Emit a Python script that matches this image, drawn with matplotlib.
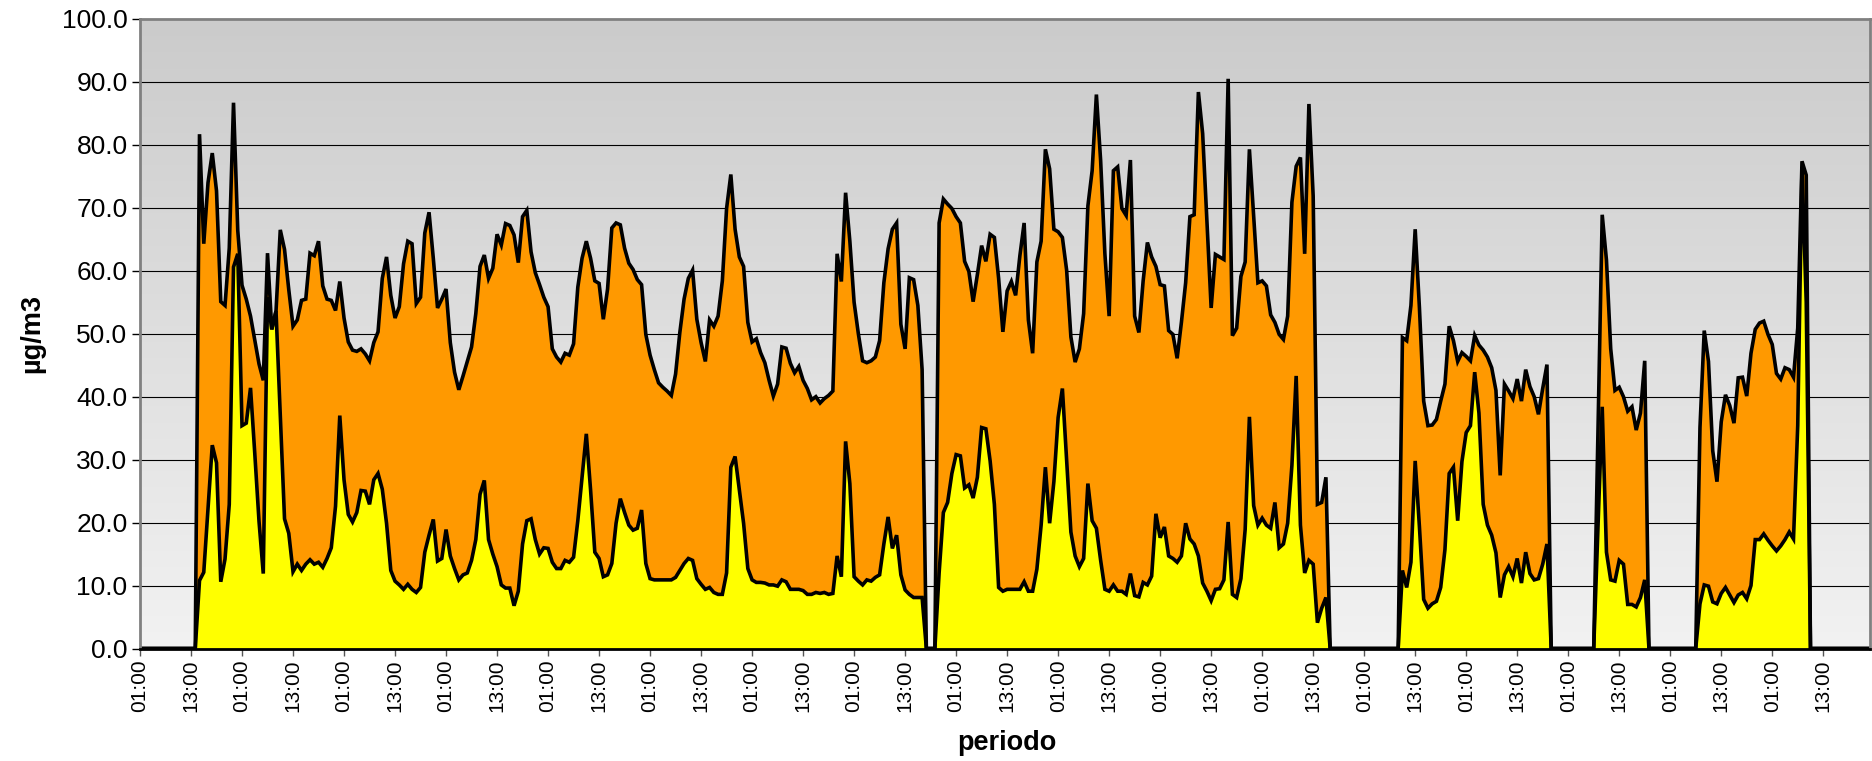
import numpy as np
import matplotlib
matplotlib.use("Agg")
import matplotlib.pyplot as plt
from matplotlib.colors import LinearSegmentedColormap

# ---------------- data (hourly, first value = 01:00 of day 1) ----------------
pm10 = [
    0, 0, 0, 0, 0, 0, 0, 0, 0, 0, 0, 0, 0, 0,
    81.7, 64.3, 74.0, 78.7, 72.7, 55.1, 54.5, 63.6, 86.7, 66.4,
    57.7, 55.5, 52.8, 49.0, 45.2, 42.6, 62.8, 50.7, 53.6, 66.5,
    63.4, 57.0, 51.2, 52.2, 55.3, 55.5, 62.8, 62.4, 64.7, 57.6,
    55.5, 55.3, 53.7, 58.3, 52.5, 48.7, 47.4, 47.2, 47.6, 46.8,
    45.7, 48.6, 50.3, 58.8, 62.2, 56.1, 52.5, 54.3, 61.1, 64.7,
    64.3, 54.8, 55.8, 66.0, 69.3, 62.0, 54.1, 55.5, 57.1, 48.6,
    43.9, 41.1, 43.3, 45.6, 47.9, 53.2, 60.7, 62.5, 58.8, 60.4,
    65.8, 64.1, 67.5, 67.2, 65.7, 61.3, 68.6, 69.6, 63.0, 59.7,
    57.8, 55.8, 54.3, 47.6, 46.3, 45.5, 46.9, 46.6, 48.4, 57.4,
    62.0, 64.7, 62.0, 58.4, 58.0, 52.3, 57.1, 66.8, 67.6, 67.3,
    63.6, 61.2, 60.2, 58.6, 57.8, 49.9, 46.6, 44.3, 42.2, 41.5,
    40.9, 40.2, 43.6, 50.2, 55.5, 58.8, 60.1, 52.3, 48.6, 45.6,
    52.2, 51.2, 52.8, 58.4, 69.9, 75.3, 66.6, 62.2, 60.7, 51.8,
    48.7, 49.2, 47.0, 45.4, 42.6, 40.1, 42.0, 47.9, 47.7, 45.3,
    43.8, 44.8, 42.6, 41.3, 39.5, 40.0, 39.0, 39.7, 40.2, 40.9,
    62.7, 58.3, 72.4, 64.7, 55.0, 50.0, 45.7, 45.4, 45.7, 46.3,
    48.9, 58.1, 63.5, 66.6, 67.6, 51.5, 47.6, 58.9, 58.6, 54.5,
    44.3, 0, 0, 0, 67.6, 71.4, 70.6, 69.9, 68.6, 67.6,
    61.5, 59.9, 55.1, 59.4, 64.0, 61.5, 65.8, 65.3, 58.8, 50.3,
    56.8, 58.3, 56.1, 62.4, 67.6, 52.2, 46.9, 61.4, 64.7, 79.3,
    76.2, 66.6, 66.2, 65.3, 60.1, 49.5, 45.5, 47.6, 53.2, 70.3,
    75.9, 88.0, 77.5, 62.7, 52.8, 75.9, 76.5, 69.9, 68.8, 77.6,
    52.8, 50.2, 58.4, 64.5, 62.2, 60.7, 57.8, 57.6, 50.5, 49.9,
    46.1, 51.8, 58.1, 68.6, 68.9, 88.4, 81.8, 68.0, 54.1, 62.6,
    62.2, 61.8, 90.5, 49.7, 50.9, 59.1, 61.4, 79.3, 68.6, 58.1,
    58.4, 57.6, 53.0, 51.8, 49.9, 49.1, 52.8, 70.9, 76.6, 78.0,
    62.7, 86.5, 71.9, 22.9, 23.2, 27.2, 0, 0, 0, 0,
    0, 0, 0, 0, 0, 0, 0, 0, 0, 0,
    0, 0, 0, 49.4, 48.9, 54.5, 66.6, 54.1, 39.3, 35.4,
    35.5, 36.4, 39.3, 42.0, 51.2, 48.9, 45.6, 47.0, 46.4, 45.7,
    49.7, 48.2, 47.4, 46.3, 44.6, 41.0, 27.5, 42.0, 40.9, 39.7,
    42.8, 39.3, 44.3, 41.6, 40.0, 37.2, 41.3, 45.1, 0, 0,
    0, 0, 0, 0, 0, 0, 0, 0, 0, 34.8,
    68.9, 61.7, 47.6, 41.0, 41.5, 40.0, 37.7, 38.4, 34.7, 37.4,
    45.7, 0, 0, 0, 0, 0, 0, 0, 0, 0,
    0, 0, 0, 35.1, 50.5, 45.6, 31.4, 26.5, 36.0, 40.3,
    38.6, 35.8, 43.0, 43.1, 40.1, 46.9, 50.7, 51.7, 52.0, 49.9,
    48.3, 43.7, 42.8, 44.6, 44.3, 43.1, 50.9, 77.4, 75.2, 0,
    0, 0, 0, 0, 0, 0, 0, 0, 0, 0,
    0, 0, 0, 0,
]

pm25 = [
    0, 0, 0, 0, 0, 0, 0, 0, 0, 0, 0, 0, 0, 0,
    10.8, 12.1, 22.3, 32.3, 29.5, 10.6, 14.2, 22.9, 60.6, 62.7,
    35.4, 35.8, 41.4, 31.0, 20.2, 11.9, 55.8, 50.7, 53.6, 37.0,
    20.6, 18.3, 12.2, 13.4, 12.4, 13.4, 14.1, 13.4, 13.7, 12.9,
    14.3, 16.0, 22.6, 37.0, 26.8, 21.3, 20.1, 21.6, 25.1, 25.0,
    22.9, 26.8, 27.8, 25.3, 19.9, 12.4, 10.7, 10.1, 9.4, 10.2,
    9.4, 8.9, 9.7, 15.3, 18.0, 20.5, 13.9, 14.3, 18.9, 14.7,
    12.7, 10.9, 11.7, 12.0, 14.0, 17.3, 24.5, 26.7, 17.3, 15.0,
    13.0, 10.1, 9.6, 9.6, 6.8, 9.1, 16.6, 20.3, 20.6, 17.3,
    15.0, 16.0, 15.9, 13.7, 12.7, 12.7, 14.0, 13.7, 14.5, 20.3,
    27.2, 34.1, 25.2, 15.3, 14.3, 11.4, 11.7, 13.5, 19.9, 23.8,
    21.6, 19.6, 18.8, 19.1, 22.0, 13.5, 11.1, 10.9, 10.9, 10.9,
    10.9, 10.9, 11.3, 12.4, 13.5, 14.3, 14.0, 11.1, 10.2, 9.4,
    9.7, 8.9, 8.6, 8.6, 12.0, 28.8, 30.5, 25.2, 19.9, 12.7,
    10.9, 10.5, 10.5, 10.4, 10.1, 10.1, 9.9, 10.9, 10.6, 9.4,
    9.4, 9.4, 9.2, 8.6, 8.6, 8.9, 8.75, 8.9, 8.6, 8.75,
    14.7, 11.4, 32.9, 26.2, 11.4, 10.7, 10.1, 10.9, 10.7, 11.3,
    11.7, 16.6, 20.9, 15.9, 18.0, 11.7, 9.3, 8.6, 8.1, 8.1,
    8.1, 0, 0, 0, 12.0, 21.6, 23.2, 27.8, 30.8, 30.6,
    25.5, 26.0, 23.9, 27.2, 35.1, 34.9, 29.8, 22.9, 9.7, 9.1,
    9.4, 9.4, 9.4, 9.4, 10.6, 9.1, 9.1, 12.6, 19.6, 28.8,
    19.9, 26.5, 36.7, 41.3, 29.8, 18.5, 14.7, 13.0, 14.3, 26.2,
    20.3, 19.1, 14.0, 9.4, 9.1, 10.1, 9.1, 9.1, 8.6, 11.9,
    8.4, 8.2, 10.5, 10.1, 11.5, 21.4, 17.6, 19.3, 14.7, 14.3,
    13.7, 14.7, 19.9, 17.4, 16.6, 14.7, 10.4, 9.1, 7.6, 9.4,
    9.5, 10.9, 20.1, 8.6, 8.1, 11.1, 18.9, 36.8, 22.7, 19.6,
    20.7, 19.6, 19.1, 23.2, 16.0, 16.6, 19.9, 29.1, 43.3, 19.6,
    12.0, 14.0, 13.4, 4.1, 6.4, 8.1, 0, 0, 0, 0,
    0, 0, 0, 0, 0, 0, 0, 0, 0, 0,
    0, 0, 0, 12.4, 9.7, 13.7, 29.8, 19.3, 7.8, 6.4,
    7.1, 7.5, 9.7, 15.7, 27.8, 28.8, 20.3, 29.7, 34.3, 35.4,
    43.9, 37.4, 22.9, 19.6, 18.0, 15.2, 8.1, 11.7, 13.0, 11.4,
    14.3, 10.4, 15.3, 11.9, 10.9, 11.1, 13.4, 16.6, 0, 0,
    0, 0, 0, 0, 0, 0, 0, 0, 0, 19.4,
    38.4, 15.3, 10.9, 10.7, 14.0, 13.4, 7.0, 7.0, 6.6, 8.1,
    10.9, 0, 0, 0, 0, 0, 0, 0, 0, 0,
    0, 0, 0, 7.1, 10.1, 9.9, 7.4, 7.1, 8.75, 9.7,
    8.5, 7.3, 8.5, 8.9, 7.9, 10.0, 17.3, 17.3, 18.2, 17.2,
    16.3, 15.5, 16.3, 17.3, 18.5, 17.4, 35.4, 76.5, 55.0, 0,
    0, 0, 0, 0, 0, 0, 0, 0, 0, 0,
    0, 0, 0, 0,
]

tick_labels = ["01:00", "13:00"] * 17
y_ticks = [0, 10, 20, 30, 40, 50, 60, 70, 80, 90, 100]

assert len(pm10) == 408 and len(pm25) == 408, (len(pm10), len(pm25))

hours = np.arange(len(pm10))

# ---------------- figure ----------------
plt.rcParams["font.family"] = ["Liberation Sans", "DejaVu Sans"]
fig = plt.figure(figsize=(18.72, 7.61), dpi=100)
ax = fig.add_axes([140 / 1872, 1 - 648.5 / 761, 1730 / 1872, 629.5 / 761])

# gradient background of the plot area
cmap = LinearSegmentedColormap.from_list("bg", ["#f2f2f2", "#cbcbcb"])
grad = np.linspace(0, 1, 256).reshape(-1, 1)
ax.imshow(grad, extent=[0, 1, 0, 1], transform=ax.transAxes, aspect="auto",
          cmap=cmap, origin="lower", zorder=0, interpolation="bicubic")

# grid
for v in y_ticks[1:-1]:
    ax.axhline(v, color="black", lw=0.8, zorder=1)

ax.fill_between(hours, 0, pm10, color="#ff9900", lw=0, zorder=2)
ax.fill_between(hours, 0, pm25, color="#ffff00", lw=0, zorder=3)
ax.plot(hours, pm10, color="black", lw=2.6, zorder=4, solid_joinstyle="miter")
ax.plot(hours, pm25, color="black", lw=2.6, zorder=5, solid_joinstyle="miter")

ax.set_xlim(0, len(pm10) - 1)
ax.set_ylim(0, 100)

ax.set_yticks(y_ticks)
ax.set_yticklabels([f"{v:.1f}" for v in y_ticks], fontsize=19)
ax.set_xticks(np.arange(0, len(tick_labels) * 12, 12))
ax.set_xticklabels(tick_labels, rotation=90, fontsize=15)

ax.tick_params(axis="y", length=6, width=1.0, color="black", pad=3)
ax.tick_params(axis="x", length=5, width=1.0, color="#555555", pad=3)

for s in ax.spines.values():
    s.set_color("#808080")
    s.set_linewidth(2.0)
    s.set_zorder(6)
ax.spines["bottom"].set_color("black")

ax.set_ylabel("µg/m3", fontsize=19.5, fontweight="bold")
ax.set_xlabel("periodo", fontsize=19.5, fontweight="bold")
ax.yaxis.set_label_coords(-0.062, 0.5)
ax.yaxis.label.set_va("center")
ax.xaxis.set_label_coords(0.501, -0.150)
ax.xaxis.label.set_va("center")

fig.savefig("out.png", dpi=100)
